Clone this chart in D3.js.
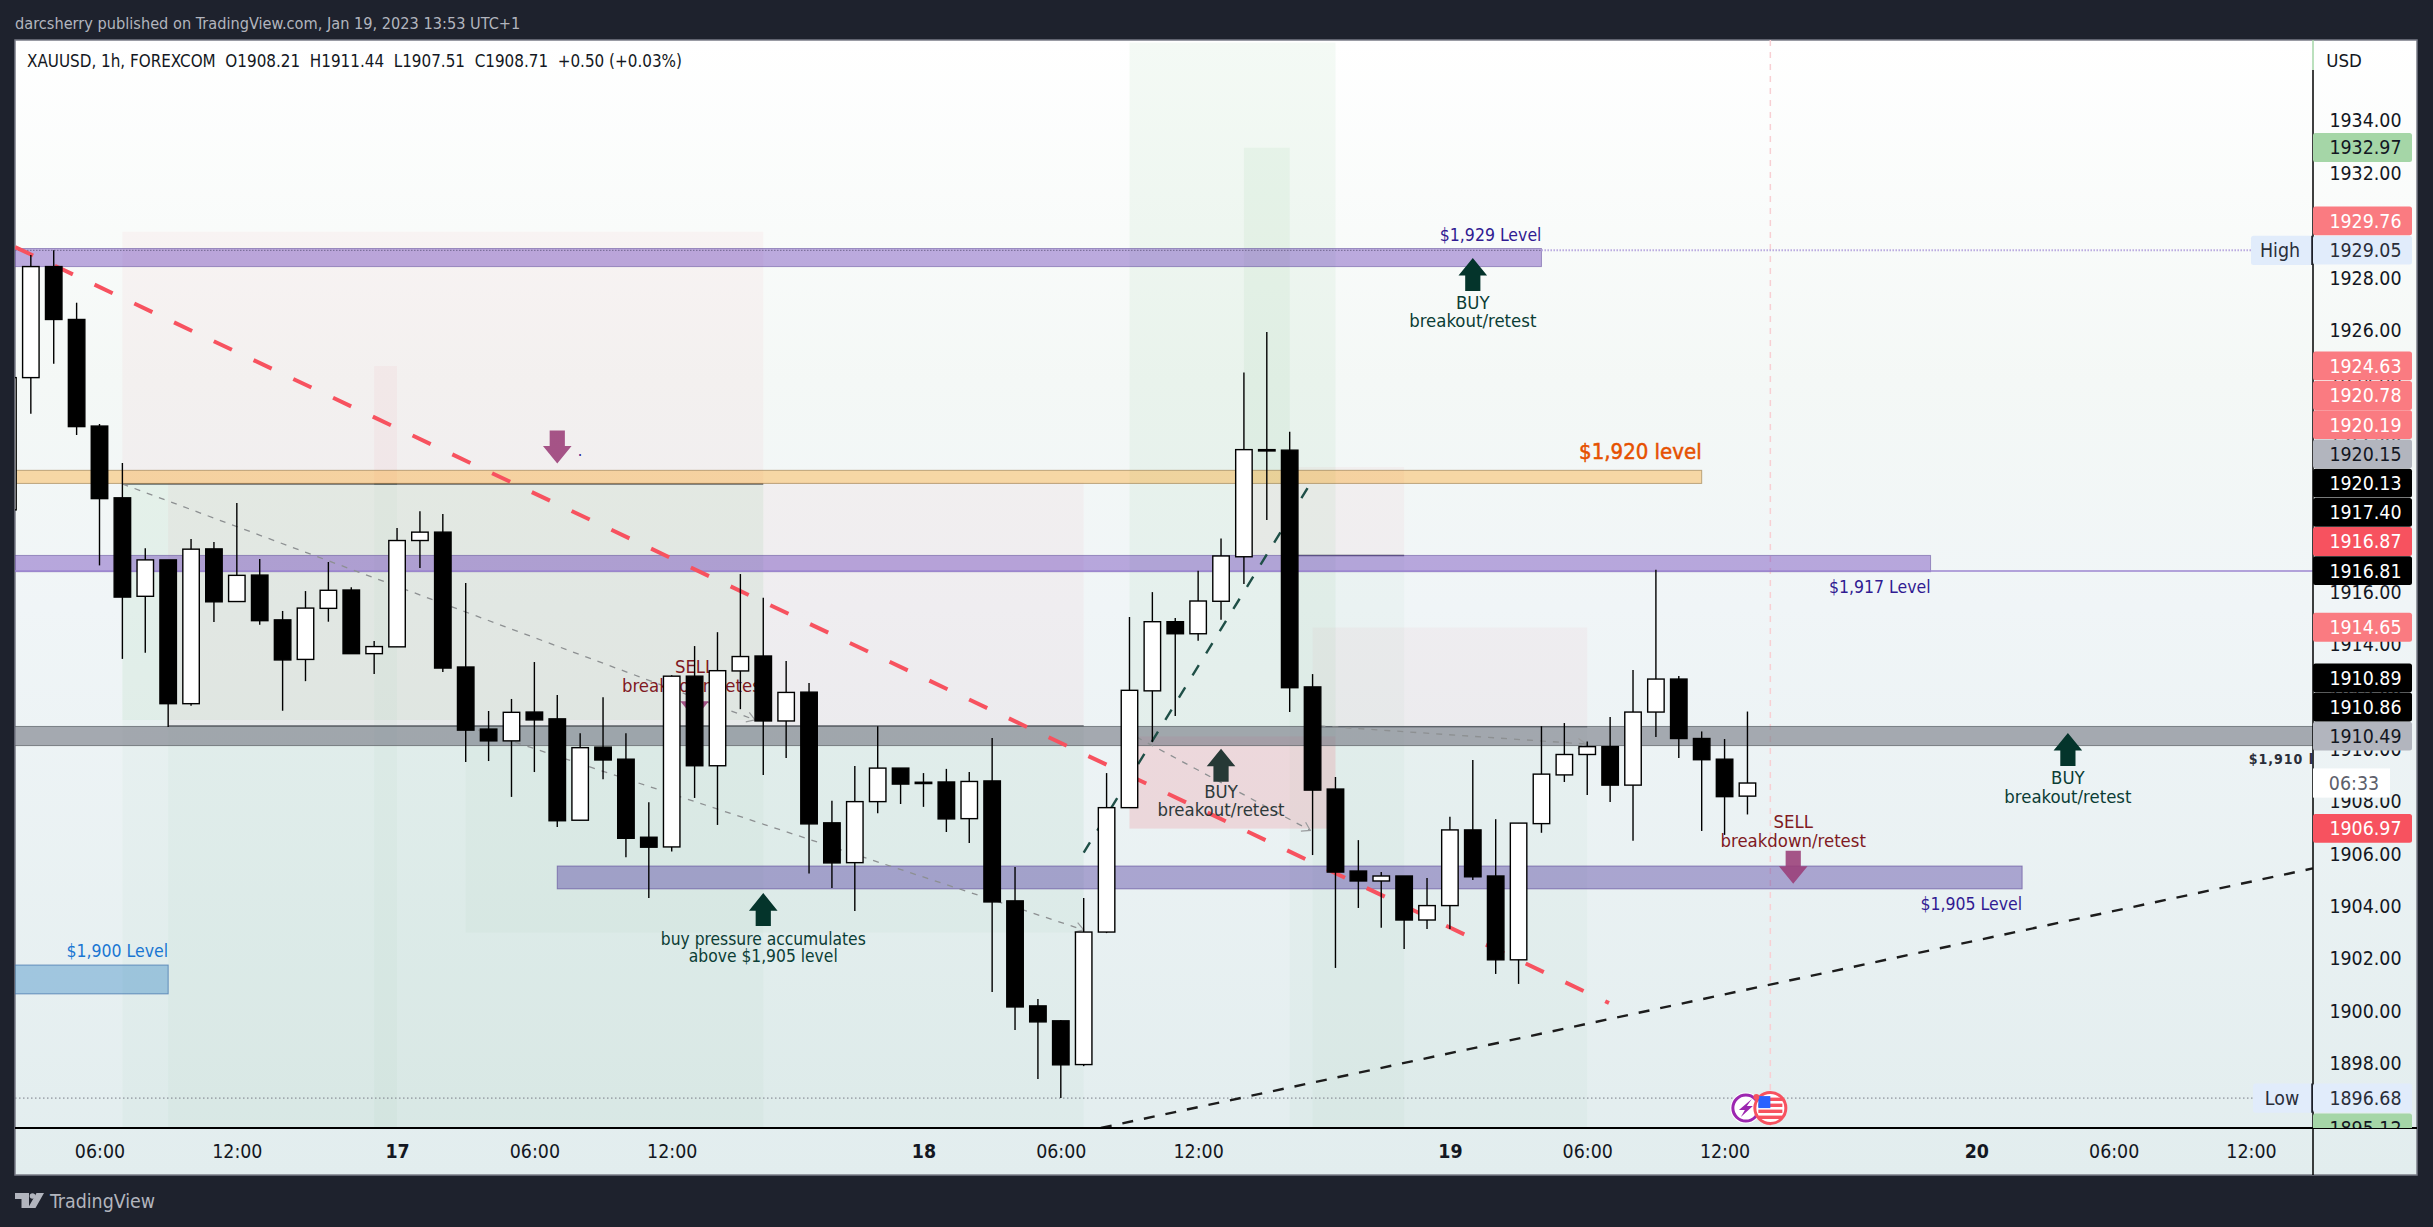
<!DOCTYPE html>
<html>
<head>
<meta charset="utf-8">
<script src="https://cdnjs.cloudflare.com/ajax/libs/d3/7.8.5/d3.min.js"></script>
<style>
  html, body { margin: 0; padding: 0; background: #1e222d; overflow: hidden; }
  text { font-family: "DejaVu Sans Condensed", "DejaVu Sans", sans-serif; font-stretch: condensed; }
</style>
</head>
<body>
<svg id="chart" width="2433" height="1227"></svg>
<script>
// hourly candles, first one is the bar cut by the left edge (bar index -1)
const firstBar = -1;
const opens = [1919.14,1924.19,1928.43,1926.41,1922.34,1919.60,1915.84,1917.23,1911.74,1917.65,1915.64,1916.65,1914.94,1913.43,1915.38,1916.08,1913.65,1913.91,1917.97,1918.29,1913.14,1910.77,1910.32,1911.42,1911.16,1907.29,1910.08,1909.62,1906.64,1906.27,1912.79,1909.37,1912.99,1913.56,1911.08,1912.18,1907.19,1905.67,1908.00,1909.28,1908.74,1908.75,1907.35,1908.79,1904.21,1900.20,1899.63,1897.96,1903.02,1907.77,1912.23,1914.87,1914.41,1915.65,1917.35,1921.44,1921.42,1912.38,1908.48,1905.35,1904.97,1905.16,1903.48,1904.03,1906.92,1905.16,1901.96,1907.16,1909.02,1909.80,1910.10,1908.63,1911.42,1912.68,1910.41,1909.62,1908.21];
const highs = [1925.00,1928.87,1929.05,1927.05,1922.42,1920.93,1917.67,1917.23,1918.03,1917.91,1919.40,1917.26,1915.28,1916.04,1917.15,1916.19,1914.13,1918.45,1919.09,1918.98,1916.35,1911.46,1911.92,1913.33,1912.07,1910.61,1911.99,1910.61,1907.98,1912.83,1913.94,1914.47,1916.69,1915.78,1913.37,1912.53,1908.03,1909.36,1910.88,1909.28,1909.09,1909.25,1909.13,1910.43,1905.50,1900.46,1899.66,1904.32,1909.09,1915.05,1916.00,1915.01,1916.82,1918.05,1924.39,1925.93,1922.12,1912.87,1908.94,1906.53,1905.31,1905.16,1905.08,1907.42,1909.59,1907.33,1907.18,1910.88,1911.00,1910.30,1911.23,1913.03,1916.85,1912.80,1910.68,1910.39,1911.44];
const lows = [1918.50,1922.81,1924.72,1922.00,1917.02,1913.45,1913.68,1910.85,1911.66,1914.86,1915.64,1914.75,1911.47,1912.60,1914.87,1913.65,1912.87,1913.91,1916.92,1912.95,1909.51,1909.55,1908.18,1909.13,1907.03,1907.29,1908.85,1905.88,1904.32,1906.10,1908.14,1907.11,1911.53,1909.02,1909.67,1905.26,1904.70,1903.82,1907.56,1907.91,1907.80,1906.84,1906.42,1900.73,1899.28,1897.41,1896.68,1897.90,1902.98,1907.77,1910.28,1911.27,1914.14,1914.94,1916.31,1918.75,1911.42,1905.96,1901.65,1903.94,1903.18,1902.37,1903.14,1903.14,1905.01,1901.42,1901.04,1906.81,1908.75,1908.25,1907.99,1906.51,1910.47,1909.67,1906.88,1906.73,1907.51];
const closes = [1924.19,1928.43,1926.41,1922.32,1919.57,1915.81,1917.23,1911.74,1917.64,1915.63,1916.64,1914.91,1913.41,1915.39,1916.07,1913.65,1913.92,1917.97,1918.29,1913.10,1910.73,1910.32,1911.41,1911.12,1907.27,1910.06,1909.59,1906.60,1906.26,1912.79,1909.37,1913.00,1913.54,1911.08,1912.17,1907.15,1905.66,1908.00,1909.28,1908.67,1908.69,1907.34,1908.77,1904.17,1900.16,1899.59,1897.95,1903.02,1907.77,1912.25,1914.87,1914.41,1915.66,1917.38,1921.44,1921.39,1912.35,1908.44,1905.31,1904.97,1905.16,1903.48,1904.03,1906.92,1905.13,1901.96,1907.18,1909.05,1909.80,1910.10,1908.63,1911.42,1912.68,1910.41,1909.60,1908.19,1908.71];

const priceTicks = [1934,1932,1930,1928,1926,1924,1922,1920,1918,1916,1914,1912,1910,1908,1906,1904,1902,1900,1898];
const timeTickBars = [3,9,16,22,28,39,45,51,62,68,74,85,91,97];
const timeTickLabels = ["06:00","12:00","17","06:00","12:00","18","06:00","12:00","19","06:00","12:00","20","06:00","12:00"];

// price scale tags, low to high so they can stack
const tagValues = [1895.12,1896.68,1906.97,1910.49,1910.86,1910.89,1914.65,1916.81,1916.87,1917.40,1920.13,1920.15,1920.19,1920.78,1924.63,1929.05,1929.76,1932.97];
const tagKinds = ["green","blue","red","grey","black","black","salmon","black","red","black","black","grey","salmon","salmon","salmon","blue","salmon","green"];
const highValue = 1929.05;
const lowValue = 1896.68;
const countdown = "06:33";

// position tools: bar from, bar to, entry, top, bottom
const longTools = [[48,57,1910.49,1936.98,1906.97],[53,55,1920.13,1932.97,1917.40]];
const shortTools = [[4,32,1920.13,1929.76,1895.12],[6,46,1910.89,1920.19,1895.12],[15,16,1920.13,1924.63,1895.12],[19,46,1910.86,1910.86,1903.00],[55,60,1917.40,1920.78,1895.12],[56,68,1910.86,1914.65,1895.12]];
const extraGreen = [4,32,1920.13,1911.12];

// level zones: bar from, bar to, price top, price bottom
const zone1929 = [-1,66,1929.12,1928.43];
const zone1920 = [-1,73,1920.65,1920.15];
const zone1917 = [-1,83,1917.40,1916.78];
const zone1910 = [-1,100,1910.87,1910.14];
const zone1905 = [23,87,1905.54,1904.67];
const zone1900 = [-1,6,1901.76,1900.66];

const redTrend = [[-0.69,1929.18],[68.95,1900.31]];
const blackTrend = [[46.75,1895.54],[99.7,1905.45]];
const greenTrend = [[46,1906.05],[55.78,1919.97]];
const greyArrows = [[4,1920.13,31.64,1911.12],[19,1910.89,46,1903.1],[48.3,1910.47,55.9,1906.9],[56.3,1910.89,67.95,1910.2]];

const upArrows = [[63,1928.76],[89,1910.62],[52,1910.02],[32,1904.51]];
const downArrows = [[23,1920.91],[29,1911.16],[77,1904.86]];

// notes: bar, price, text
const indigoNotes = [[66,1929.64,"$1,929 Level"],[83,1916.20,"$1,917 Level"],[87,1904.09,"$1,905 Level"]];
const blueNotes = [[6,1902.30,"$1,900 Level"]];
const orangeNotes = [[73,1921.37,"$1,920 level"]];
const buyNotes = [[63,1927.04,"BUY"],[63,1926.35,"breakout/retest"],[89,1908.90,"BUY"],[89,1908.20,"breakout/retest"]];
const pressureNotes = [[32,1902.77,"buy pressure accumulates"],[32,1902.11,"above $1,905 level"]];
const buyNotesDim = [[52,1908.37,"BUY"],[52,1907.68,"breakout/retest"]];
const sellNotes = [[29,1913.14,"SELL"],[29,1912.45,"breakdown/retest"],[77,1907.23,"SELL"],[77,1906.53,"breakdown/retest"]];

const paneL = 15, paneT = 40, paneR = 2417, paneB = 1175;
const axisX = 2313, axisY = 1128;

const x = d3.scaleLinear().domain([3, 97]).range([99.5, 2251]);
const y = d3.scaleLinear().domain([1896, 1934]).range([1115.9, 120.7]);

const svg = d3.select("#chart");
const defs = svg.append("defs");

const grad = defs.append("linearGradient").attr("id", "bg").attr("x1", 0).attr("x2", 0).attr("y1", 0).attr("y2", 1);
[[0, "#ffffff"], [0.3, "#f4f8f6"], [0.5, "#f0f5f7"], [1, "#e2edee"]].forEach(s => {
  grad.append("stop").attr("offset", s[0]).attr("stop-color", s[1]);
});
defs.append("clipPath").attr("id", "plot").append("rect")
  .attr("x", paneL).attr("y", paneT).attr("width", axisX - paneL).attr("height", axisY - paneT);
defs.append("clipPath").attr("id", "scaleClip").append("rect")
  .attr("x", paneL).attr("y", paneT).attr("width", paneR - paneL).attr("height", axisY - paneT);
defs.append("marker").attr("id", "chev").attr("viewBox", "-10 -6 12 12").attr("markerWidth", 12).attr("markerHeight", 12)
  .attr("markerUnits", "userSpaceOnUse").attr("orient", "auto").attr("refX", 0).attr("refY", 0)
  .append("path").attr("d", "M-8,-5L0,0L-8,5").attr("fill", "none").attr("stroke", "#9a9c9e").attr("stroke-width", 1.2);

// pane
svg.append("rect").attr("x", paneL).attr("y", paneT).attr("width", paneR - paneL).attr("height", paneB - paneT)
  .attr("fill", "url(#bg)").attr("stroke", "#787b86").attr("stroke-width", 1.5);

const plot = svg.append("g").attr("clip-path", "url(#plot)");

function band(g, r, fill, stroke) {
  g.append("rect")
    .attr("x", x(r[0])).attr("width", x(r[1]) - x(r[0]))
    .attr("y", y(r[2])).attr("height", y(r[3]) - y(r[2]))
    .attr("fill", fill).attr("stroke", stroke || "none");
}

const PINK = "rgba(242,54,69,0.04)", GREEN = "rgba(76,175,80,0.03)", GREEN_LONG = "rgba(76,175,80,0.06)";
shortTools.forEach(t => {
  band(plot, [t[0], t[1], t[3], t[2]], PINK);
  band(plot, [t[0], t[1], t[2], t[4]], GREEN);
  if (t[3] > t[2]) {
    plot.append("line").attr("x1", x(t[0])).attr("x2", x(t[1])).attr("y1", y(t[2])).attr("y2", y(t[2]))
      .attr("stroke", "#5f6368").attr("stroke-width", 1.6);
  }
});
band(plot, extraGreen, "rgba(76,175,80,0.045)");
longTools.forEach((t, i) => {
  band(plot, [t[0], t[1], t[3], t[2]], GREEN_LONG);
  band(plot, [t[0], t[1], t[2], t[4]], i === 0 ? "rgba(242,54,69,0.14)" : PINK);
});

// session break
plot.append("line").attr("x1", x(76)).attr("x2", x(76)).attr("y1", paneT).attr("y2", axisY)
  .attr("stroke", "#f8cfd3").attr("stroke-width", 1.5).attr("stroke-dasharray", "6,6");

band(plot, zone1929, "rgba(103,58,183,0.42)", "rgba(90,70,150,0.5)");
band(plot, zone1920, "rgba(255,152,0,0.33)", "rgba(150,120,70,0.6)");
band(plot, zone1917, "rgba(103,58,183,0.42)", "rgba(90,70,150,0.5)");
band(plot, zone1910, "rgba(120,123,134,0.62)", "rgba(90,95,100,0.7)");
band(plot, zone1905, "rgba(82,60,160,0.42)", "rgba(90,70,150,0.6)");
band(plot, zone1900, "rgba(30,120,190,0.35)", "rgba(60,110,170,0.7)");

// horizontal price lines
plot.append("line").attr("x1", paneL).attr("x2", x(66)).attr("y1", y(highValue)).attr("y2", y(highValue))
  .attr("stroke", "#70668f").attr("stroke-dasharray", "1.5,1.5");
svg.append("line").attr("x1", x(66)).attr("x2", 2251).attr("y1", y(highValue)).attr("y2", y(highValue))
  .attr("stroke", "#b9a9df").attr("stroke-width", 2).attr("stroke-dasharray", "1.5,1.5");
plot.append("line").attr("x1", paneL).attr("x2", 2253).attr("y1", y(lowValue)).attr("y2", y(lowValue))
  .attr("stroke", "#787b86").attr("stroke-dasharray", "1.5,2.5");
plot.append("line").attr("x1", paneL).attr("x2", axisX).attr("y1", y(1916.81)).attr("y2", y(1916.81))
  .attr("stroke", "#9c86d0").attr("stroke-opacity", 0.75).attr("stroke-width", 2);

// trend lines
const trend = d3.line().x(d => x(d[0])).y(d => y(d[1]));
greyArrows.forEach(a => {
  plot.append("path").attr("d", trend([[a[0], a[1]], [a[2], a[3]]]))
    .attr("fill", "none").attr("stroke", "#8d9092").attr("stroke-width", 1.3)
    .attr("stroke-dasharray", "6,7").attr("marker-end", "url(#chev)");
});
plot.append("path").attr("d", trend(blackTrend)).attr("fill", "none").attr("stroke", "#1c1c1c")
  .attr("stroke-width", 2.4).attr("stroke-dasharray", "11,11");
plot.append("path").attr("d", trend(greenTrend)).attr("fill", "none").attr("stroke", "#1f4f47")
  .attr("stroke-width", 2.4).attr("stroke-dasharray", "12,14");
plot.append("path").attr("d", trend(redTrend)).attr("fill", "none").attr("stroke", "#f7525f")
  .attr("stroke-width", 4).attr("stroke-dasharray", "20,24");

// arrows
function arrowPath(d, dir) {
  const cx = x(d[0]), tip = y(d[1]);
  const pts = [[0, 0], [14.3, 17.6], [7.6, 17.6], [7.6, 33], [-7.6, 33], [-7.6, 17.6], [-14.3, 17.6]];
  return "M" + pts.map(p => [cx + p[0], tip + dir * p[1]].join(",")).join("L") + "Z";
}
plot.selectAll(".up").data(upArrows).join("path").attr("class", "up")
  .attr("d", d => arrowPath(d, 1)).attr("fill", (d, i) => i === 2 ? "#263936" : "#04342b");
plot.selectAll(".down").data(downArrows).join("path").attr("class", "down")
  .attr("d", d => arrowPath(d, -1)).attr("fill", "#9a3d78").attr("fill-opacity", 0.88);

// notes
function notes(rows, color, size, anchor, bold) {
  plot.append("g").selectAll("text").data(rows).join("text")
    .attr("x", d => x(d[0])).attr("y", d => y(d[1]))
    .attr("dy", "0.35em").attr("text-anchor", anchor)
    .attr("fill", color).attr("font-size", size)
    .attr("stroke", bold ? color : "none").attr("stroke-width", bold || 0)
    .text(d => d[2]);
}
notes(indigoNotes, "#311b92", 17.5, "end");
notes(blueNotes, "#1976d2", 17.5, "end");
notes(orangeNotes, "#e65100", 22, "end", 0.5);
notes(buyNotes, "#0b3d35", 18.4, "middle");
notes(pressureNotes, "#0b3d35", 17.3, "middle");
notes(buyNotesDim, "#2e3a3a", 18.4, "middle");
notes(sellNotes, "#801922", 18.4, "middle");
plot.append("text").attr("x", x(96.9)).attr("y", y(1909.63)).attr("dy", "0.35em")
  .attr("fill", "#2a2e39").attr("font-size", 14).attr("font-weight", 600).attr("letter-spacing", 1)
  .text("$1,910 level");
plot.append("text").attr("x", x(24)).attr("y", y(1921.2)).attr("text-anchor", "middle")
  .attr("fill", "#311b92").attr("font-size", 16).text(".");

// candles
const bars = opens.map((o, i) => ({ i: i + firstBar, o, h: highs[i], l: lows[i], c: closes[i] }));
const bodyW = (x(1) - x(0)) * 0.72;
const candle = plot.append("g").selectAll("g").data(bars).join("g");
candle.append("line")
  .attr("x1", d => x(d.i)).attr("x2", d => x(d.i))
  .attr("y1", d => y(d.h)).attr("y2", d => y(d.l))
  .attr("stroke", "#000").attr("stroke-width", 1.4);
candle.append("rect")
  .attr("x", d => x(d.i) - bodyW / 2).attr("width", bodyW)
  .attr("y", d => y(Math.max(d.o, d.c)))
  .attr("height", d => Math.max(1, Math.abs(y(d.o) - y(d.c))))
  .attr("fill", d => d.c < d.o ? "#000" : "#fff")
  .attr("stroke", "#000").attr("stroke-width", 1.4);

// event icons
const iconY = y(lowValue) + 10;
const icons = svg.append("g");
icons.append("circle").attr("cx", x(74.93)).attr("cy", iconY).attr("r", 15.5).attr("fill", "#fff");
icons.append("circle").attr("cx", x(74.93)).attr("cy", iconY).attr("r", 13)
  .attr("fill", "#fff").attr("stroke", "#9c27b0").attr("stroke-width", 3);
icons.append("path").attr("transform", `translate(${x(74.93)},${iconY})`)
  .attr("d", "M6,-9L-7,2L-1,2L-5,9L7,-2L1,-2Z").attr("fill", "#9c27b0");
icons.append("circle").attr("cx", x(76)).attr("cy", iconY).attr("r", 15.5)
  .attr("fill", "#fff").attr("stroke", "#f7525f").attr("stroke-width", 3);
const fx = x(76), fy = iconY;
[-9, -3, 3, 9].forEach(dy => {
  icons.append("rect").attr("x", fx - 12).attr("width", 24).attr("y", fy + dy - 1.5).attr("height", 3.4).attr("fill", "#f7525f");
});
icons.append("rect").attr("x", fx - 12).attr("y", fy - 12).attr("width", 12).attr("height", 12).attr("fill", "#2962ff");
icons.append("circle").attr("cx", fx - 14).attr("cy", fy - 11).attr("r", 3).attr("fill", "#f7525f");

// axes
const yAxis = d3.axisRight(y).tickValues(priceTicks).tickSize(0).tickFormat(d3.format(".2f"));
const yG = svg.append("g").attr("transform", `translate(${axisX},0)`).call(yAxis);
yG.select(".domain").remove();
yG.selectAll("text").attr("x", 88.5).attr("text-anchor", "end").attr("font-size", 19.4).attr("fill", "#131722");

const xAxis = d3.axisBottom(x).tickValues(timeTickBars).tickSize(0).tickFormat((d, i) => timeTickLabels[i]);
const xG = svg.append("g").attr("transform", `translate(0,${axisY})`).call(xAxis);
xG.select(".domain").remove();
xG.selectAll("text").attr("y", 16).attr("font-size", 19.4).attr("fill", "#131722")
  .attr("font-weight", (d, i) => /:/.test(timeTickLabels[i]) ? 400 : 700);

svg.append("line").attr("x1", axisX).attr("x2", axisX).attr("y1", paneT).attr("y2", 70).attr("stroke", "#a5d6a7").attr("stroke-width", 1.5);
svg.append("line").attr("x1", axisX).attr("x2", axisX).attr("y1", 70).attr("y2", paneB).attr("stroke", "#000").attr("stroke-width", 1.5);
svg.append("line").attr("x1", paneL).attr("x2", paneR).attr("y1", axisY).attr("y2", axisY).attr("stroke", "#000").attr("stroke-width", 1.8);
svg.append("text").attr("x", 2344).attr("y", 61).attr("dy", "0.35em").attr("text-anchor", "middle")
  .attr("font-size", 18.5).attr("fill", "#131722").text("USD");

// price tags, pushed up when they would overlap the one below, kept inside the pane
const tagH = 29.2;
const tagStyle = {
  green: ["#a5d6a7", "#131722"], blue: ["#e1ecfb", "#2a2e39"], red: ["#f7525f", "#fff"],
  grey: ["#b2b5be", "#131722"], black: ["#000", "#fff"], salmon: ["#fa7b81", "#fff"]
};
let last = axisY + tagH;
const tagRows = tagValues.map((v, i) => {
  const cy = Math.min(y(v), last - tagH);
  last = cy;
  return { v, cy, kind: tagKinds[i] };
});
const tagsG = svg.append("g").attr("clip-path", "url(#scaleClip)");
const tag = tagsG.selectAll("g").data(tagRows).join("g");
tag.append("rect").attr("x", axisX).attr("width", 99).attr("rx", 2.5)
  .attr("y", d => d.cy - tagH / 2).attr("height", tagH - 0.4)
  .attr("fill", d => tagStyle[d.kind][0]);
tag.append("text").attr("x", 2401.5).attr("y", d => d.cy).attr("dy", "0.35em").attr("text-anchor", "end")
  .attr("font-size", 19.4).attr("fill", d => tagStyle[d.kind][1])
  .text(d => d.v.toFixed(2));

// countdown under the last price
const cdY = y(closes[closes.length - 1]);
svg.append("rect").attr("x", axisX).attr("y", cdY - tagH / 2).attr("width", 77).attr("height", tagH).attr("fill", "#fff");
svg.append("text").attr("x", 2354).attr("y", cdY).attr("dy", "0.35em").attr("text-anchor", "middle")
  .attr("font-size", 19.4).attr("fill", "#5d606b").text(countdown);

// High / Low flags
[["High", highValue, 2251, 2280], ["Low", lowValue, 2253, 2282]].forEach(r => {
  const cy = y(r[1]);
  svg.append("rect").attr("x", r[2]).attr("y", cy - tagH / 2).attr("width", 2312 - r[2]).attr("height", tagH).attr("rx", 2.5).attr("fill", "#e1ecfb");
  svg.append("line").attr("x1", 2312).attr("x2", 2312).attr("y1", cy - tagH / 2).attr("y2", cy + tagH / 2).attr("stroke", "#131722").attr("stroke-width", 1.5);
  svg.append("text").attr("x", r[3]).attr("y", cy).attr("dy", "0.35em").attr("text-anchor", "middle")
    .attr("font-size", 19.4).attr("fill", "#2a2e39").text(r[0]);
});

// header and legend
svg.append("text").attr("x", 15).attr("y", 23).attr("dy", "0.35em").attr("font-size", 16.2).attr("fill", "#b2b5be")
  .text("darcsherry published on TradingView.com, Jan 19, 2023 13:53 UTC+1");
svg.append("text").attr("x", 27).attr("y", 61).attr("dy", "0.35em").attr("font-size", 16.9).attr("fill", "#131722")
  .style("white-space", "pre")
  .text("XAUUSD, 1h, FOREXCOM  O1908.21  H1911.44  L1907.51  C1908.71  +0.50 (+0.03%)");

// footer logo
svg.append("path").attr("d", "M15,1193H29V1208H21.5V1199H15ZM44,1193L35.5,1208H28L36.5,1193Z").attr("fill", "#b2b5be");
svg.append("circle").attr("cx", 32.5).attr("cy", 1196).attr("r", 2.8).attr("fill", "#b2b5be");
svg.append("text").attr("x", 50).attr("y", 1208).attr("font-size", 19.4).attr("fill", "#b2b5be").text("TradingView");
</script>
</body>
</html>
